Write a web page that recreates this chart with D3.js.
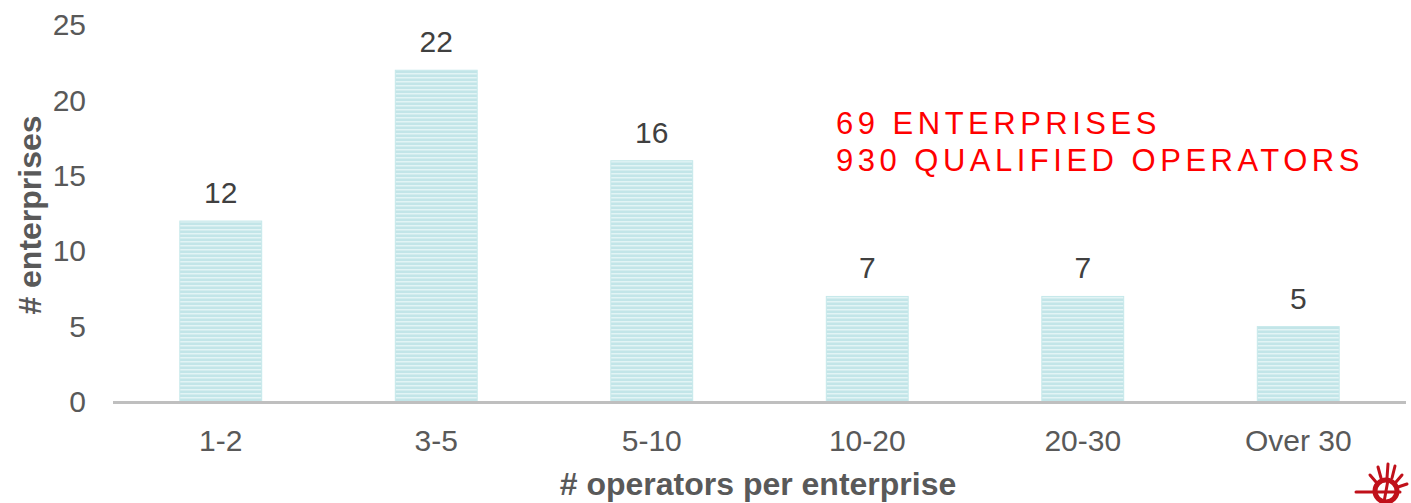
<!DOCTYPE html>
<html><head><meta charset="utf-8">
<script src="https://cdn.jsdelivr.net/npm/d3@7"></script>
<style>body{margin:0;background:#fff}svg{display:block}text{font-family:"Liberation Sans",Arial,sans-serif}</style>
</head><body>
<script>
const categories = ["1-2","3-5","5-10","10-20","20-30","Over 30"];
const values = [12,22,16,7,7,5];
const yTicks = [0,5,10,15,20,25];
const annotation = ["69 ENTERPRISES","930 QUALIFIED OPERATORS"];

const W=1411,H=503;
const svg=d3.select("body").append("svg").attr("width",W).attr("height",H);
const defs=svg.append("defs");
const pat=defs.append("pattern").attr("id","stripes").attr("patternUnits","userSpaceOnUse").attr("width",6).attr("height",4);
pat.append("rect").attr("width",6).attr("height",4).attr("fill","#c2e5e8");
pat.append("rect").attr("y",1).attr("width",6).attr("height",1.5).attr("fill","#e2f4f5");

const x=d3.scaleBand().domain(categories).range([113,1406]).paddingInner(0.62).paddingOuter(0.31);
const y=d3.scaleLinear().domain([0,25]).range([402,25]);

// bars
svg.selectAll("rect.bar").data(values).join("rect").attr("class","bar")
 .attr("x",(d,i)=>x(categories[i])).attr("width",x.bandwidth())
 .attr("y",d=>y(d)).attr("height",d=>y(0)-y(d))
 .attr("fill","url(#stripes)").attr("stroke","#c6e8ea").attr("stroke-width",1);

// value labels
svg.selectAll("text.val").data(values).join("text").attr("class","val")
 .attr("x",(d,i)=>x(categories[i])+x.bandwidth()/2).attr("y",d=>y(d)-18)
 .attr("text-anchor","middle").attr("font-size",30).attr("fill","#404040").text(d=>d);

// y axis
const ya=svg.append("g").attr("transform","translate(86,0)")
 .call(d3.axisLeft(y).tickValues(yTicks).tickSize(0).tickPadding(0));
ya.select(".domain").remove();
ya.selectAll("text").attr("font-size",30).attr("fill","#595959").attr("font-family","Liberation Sans, Arial, sans-serif");

// x axis
const xa=svg.append("g").attr("transform","translate(0,402)")
 .call(d3.axisBottom(x).tickSize(0).tickPadding(28));
xa.select(".domain").remove();
xa.selectAll("text").attr("font-size",30).attr("fill","#595959").attr("font-family","Liberation Sans, Arial, sans-serif");
svg.append("line").attr("x1",113).attr("x2",1406).attr("y1",402.5).attr("y2",402.5).attr("stroke","#bfbfbf").attr("stroke-width",3);

// titles
svg.append("text").attr("transform","translate(41,215) rotate(-90)").attr("text-anchor","middle")
 .attr("font-size",32).attr("font-weight","bold").attr("fill","#595959").text("# enterprises");
svg.append("text").attr("x",758).attr("y",495).attr("text-anchor","middle")
 .attr("font-size",32).attr("font-weight","bold").attr("fill","#595959").text("# operators per enterprise");

// annotation
svg.selectAll("text.ann").data(annotation).join("text").attr("class","ann")
 .attr("x",836).attr("y",(d,i)=>134+i*37).attr("font-size",31).attr("letter-spacing","4.5px")
 .attr("fill","#ff0000").text(d=>d);

// logo
const lg=svg.append("g").attr("transform","translate(1386,491)").attr("stroke","#c0101a").attr("fill","none").attr("stroke-linecap","round");
lg.append("circle").attr("r",11).attr("stroke-width",5);
lg.append("line").attr("x1",-30).attr("x2",14).attr("y1",1).attr("y2",1).attr("stroke-width",3);
lg.append("line").attr("x1",2).attr("x2",-2).attr("y1",-11).attr("y2",11).attr("stroke-width",3);
[[-8,-24,-5,-13],[2,-27,1,-13],[9,-25,6,-13],[-16,-16,-10,-9],[16,-16,10,-9],[21,-7,12,-4]].forEach(r=>{
 lg.append("line").attr("x1",r[0]).attr("y1",r[1]).attr("x2",r[2]).attr("y2",r[3]).attr("stroke-width",3);
});
</script>
</body></html>
